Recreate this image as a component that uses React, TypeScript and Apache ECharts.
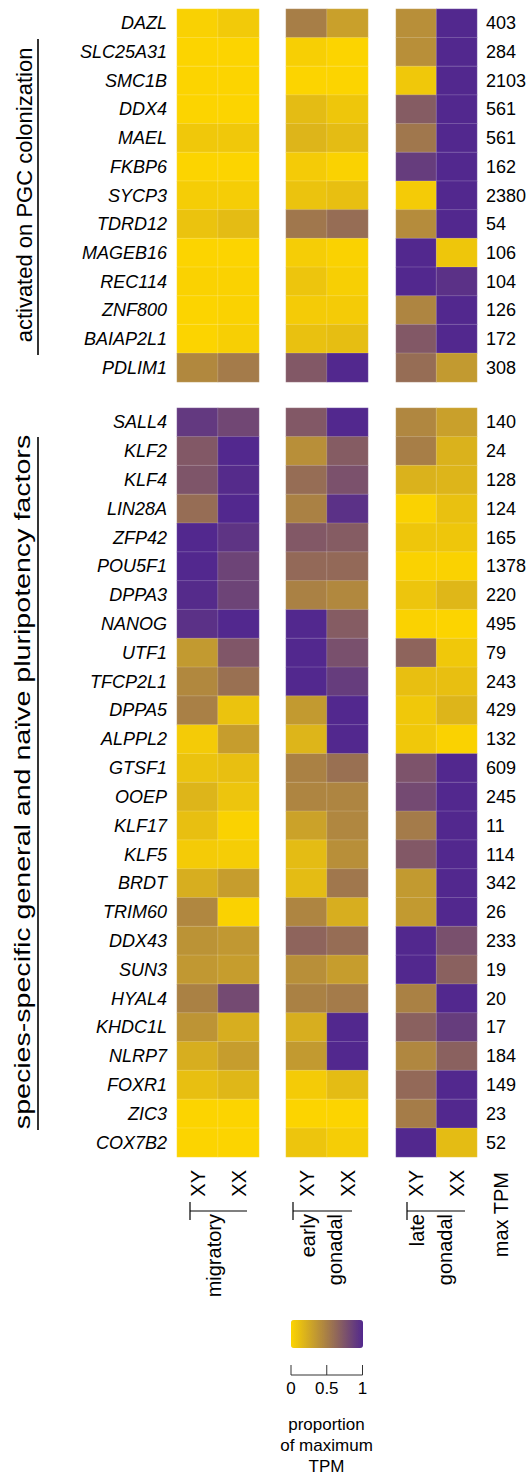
import React, { useEffect, useRef } from "react";
import * as echarts from "echarts";

// ---------- data ----------
const columns = ["XY", "XX"];

const topGenes = ["DAZL", "SLC25A31", "SMC1B", "DDX4", "MAEL", "FKBP6", "SYCP3", "TDRD12", "MAGEB16", "REC114", "ZNF800", "BAIAP2L1", "PDLIM1"];
const topMaxTPM = [403, 284, 2103, 561, 561, 162, 2380, 54, 106, 104, 126, 172, 308];
const topMigXY = [0.02, 0, 0, 0, 0.07, 0, 0.04, 0.1, 0, 0.01, 0, 0, 0.44];
const topMigXX = [0.06, 0, 0, 0, 0.07, 0, 0.04, 0.14, 0, 0.01, 0.01, 0.03, 0.52];
const topEarlyXY = [0.5, 0.03, 0, 0.14, 0.18, 0.05, 0.1, 0.54, 0.04, 0.09, 0.05, 0.11, 0.72];
const topEarlyXX = [0.3, 0, 0, 0.08, 0.14, 0.01, 0.12, 0.6, 0.01, 0.03, 0.05, 0.13, 1];
const topLateXY = [0.4, 0.4, 0.07, 0.7, 0.54, 0.88, 0.05, 0.42, 1, 1, 0.46, 0.72, 0.6];
const topLateXX = [1, 1, 1, 1, 1, 1, 1, 1, 0.08, 0.95, 1, 1, 0.34];

const botGenes = ["SALL4", "KLF2", "KLF4", "LIN28A", "ZFP42", "POU5F1", "DPPA3", "NANOG", "UTF1", "TFCP2L1", "DPPA5", "ALPPL2", "GTSF1", "OOEP", "KLF17", "KLF5", "BRDT", "TRIM60", "DDX43", "SUN3", "HYAL4", "KHDC1L", "NLRP7", "FOXR1", "ZIC3", "COX7B2"];
const botMaxTPM = [140, 24, 128, 124, 165, 1378, 220, 495, 79, 243, 429, 132, 609, 245, 11, 114, 342, 26, 233, 19, 20, 17, 184, 149, 23, 52];
const botMigXY = [0.9, 0.72, 0.74, 0.6, 1, 1, 0.98, 0.95, 0.34, 0.44, 0.49, 0.05, 0.1, 0.18, 0.12, 0.05, 0.22, 0.45, 0.38, 0.35, 0.48, 0.37, 0.22, 0.12, 0, 0];
const botMigXX = [0.82, 1, 0.98, 1, 0.93, 0.84, 0.84, 1, 0.73, 0.58, 0.1, 0.32, 0.12, 0.09, 0.01, 0.04, 0.32, 0.01, 0.35, 0.32, 0.8, 0.22, 0.32, 0.17, 0, 0];
const botEarlyXY = [0.72, 0.4, 0.6, 0.48, 0.72, 0.62, 0.48, 1, 1, 1, 0.34, 0.18, 0.48, 0.46, 0.29, 0.14, 0.14, 0.46, 0.65, 0.4, 0.48, 0.22, 0.34, 0.05, 0, 0.09];
const botEarlyXX = [1, 0.7, 0.76, 0.95, 0.7, 0.62, 0.44, 0.7, 0.77, 0.88, 1, 1, 0.58, 0.46, 0.45, 0.4, 0.54, 0.22, 0.6, 0.32, 0.52, 1, 1, 0.14, 0, 0.04];
const botLateXY = [0.45, 0.5, 0.2, 0.01, 0.08, 0.01, 0.09, 0.01, 0.65, 0.12, 0.07, 0.07, 0.75, 0.8, 0.52, 0.72, 0.34, 0.34, 1, 1, 0.48, 0.67, 0.45, 0.62, 0.51, 1];
const botLateXX = [0.3, 0.2, 0.18, 0.11, 0.08, 0.01, 0.17, 0, 0.07, 0.12, 0.18, 0.01, 1, 1, 1, 1, 1, 1, 0.77, 0.67, 1, 0.88, 0.67, 1, 1, 0.14];

const colorTicks = ["0", "0.5", "1"];
const stageLabels = [["migratory"], ["early", "gonadal"], ["late", "gonadal"]];

// ---------- helpers ----------
const FONT = "Liberation Sans, Arial, Helvetica, sans-serif";

function cells(xy: number[], xx: number[]) {
  const out: number[][] = [];
  xy.forEach((v, i) => out.push([0, i, v]));
  xx.forEach((v, i) => out.push([1, i, v]));
  return out;
}

function buildOption() {
  const colLeft = [177, 286, 396];
  const colWidth = [82, 82, 81];
  const blocks = [
    { top: 9, height: 373, genes: topGenes, tpm: topMaxTPM, data: [[topMigXY, topMigXX], [topEarlyXY, topEarlyXX], [topLateXY, topLateXX]] },
    { top: 408, height: 749, genes: botGenes, tpm: botMaxTPM, data: [[botMigXY, botMigXX], [botEarlyXY, botEarlyXX], [botLateXY, botLateXX]] },
  ];

  const grid: any[] = [];
  const xAxis: any[] = [];
  const yAxis: any[] = [];
  const series: any[] = [];

  blocks.forEach((b, bi) => {
    [0, 1, 2].forEach((ci) => {
      const idx = grid.length;
      grid.push({ left: colLeft[ci], top: b.top, width: colWidth[ci], height: b.height });
      xAxis.push({
        type: "category",
        gridIndex: idx,
        data: columns,
        axisLine: { show: false },
        axisTick: { show: false },
        splitLine: { show: false },
        axisLabel: {
          show: bi === 1,
          rotate: 90,
          interval: 0,
          margin: 13,
          fontSize: 20,
          color: "#000",
          fontFamily: FONT,
        },
      });
      yAxis.push({
        type: "category",
        gridIndex: idx,
        data: b.genes,
        inverse: true,
        position: ci === 2 ? "right" : "left",
        axisLine: { show: false },
        axisTick: { show: false },
        splitLine: { show: false },
        axisLabel: {
          show: ci !== 1,
          interval: 0,
          margin: ci === 2 ? 9 : 10,
          fontSize: 18,
          fontStyle: ci === 0 ? "italic" : "normal",
          color: "#000",
          fontFamily: FONT,
          formatter: ci === 2 ? (_v: string, i: number) => String(b.tpm[i]) : undefined,
        },
      });
      series.push({
        type: "heatmap",
        xAxisIndex: idx,
        yAxisIndex: idx,
        data: cells(b.data[ci][0], b.data[ci][1]),
        itemStyle: { borderColor: "rgba(255,255,255,0.3)", borderWidth: 0.6 },
        emphasis: { disabled: true },
        label: { show: false },
      });
    });
  });

  const black = "#000";
  const graphic: any[] = [];
  // left block brackets + labels
  graphic.push({ type: "line", shape: { x1: 38, y1: 39, x2: 38, y2: 355 }, style: { stroke: black, lineWidth: 1.6 } });
  graphic.push({ type: "line", shape: { x1: 38, y1: 437, x2: 38, y2: 1130 }, style: { stroke: black, lineWidth: 1.6 } });
  graphic.push({
    type: "text", x: 24, y: 195, rotation: Math.PI / 2,
    style: { text: "activated on PGC colonization", x: 0, y: 0, align: "center", verticalAlign: "middle", fontSize: 22, fontFamily: FONT, fill: black },
  });
  graphic.push({
    type: "text", x: 22, y: 782, rotation: Math.PI / 2, scaleX: 1.3,
    style: { text: "species-specific general and naïve pluripotency factors", x: 0, y: 0, align: "center", verticalAlign: "middle", fontSize: 22, fontFamily: FONT, fill: black },
  });

  // stage labels under the columns
  const bracketLeft = [190, 293, 407];
  const bracketRight = [247, 352, 465];
  const wordX = [[214], [308, 334.5], [417, 444.5]];
  stageLabels.forEach((words, gi) => {
    graphic.push({ type: "line", shape: { x1: bracketLeft[gi], y1: 1211, x2: bracketRight[gi], y2: 1211 }, style: { stroke: black, lineWidth: 1.2 } });
    graphic.push({ type: "line", shape: { x1: bracketLeft[gi], y1: 1202, x2: bracketLeft[gi], y2: 1220 }, style: { stroke: black, lineWidth: 1.2 } });
    words.forEach((w, wi) => {
      graphic.push({
        type: "text", x: wordX[gi][wi], y: 1214, rotation: Math.PI / 2,
        style: { text: w, x: 0, y: 0, align: "right", verticalAlign: "middle", fontSize: 20, fontFamily: FONT, fill: black },
      });
    });
  });
  graphic.push({
    type: "text", x: 501, y: 1172, rotation: Math.PI / 2,
    style: { text: "max TPM", x: 0, y: 0, align: "right", verticalAlign: "middle", fontSize: 20, fontFamily: FONT, fill: black },
  });

  // colour bar axis
  const cbLeft = 291;
  const cbRight = 362.5;
  graphic.push({ type: "line", shape: { x1: cbLeft, y1: 1375, x2: cbRight, y2: 1375 }, style: { stroke: "#333", lineWidth: 1 } });
  colorTicks.forEach((t, i) => {
    const x = cbLeft + ((cbRight - cbLeft) * i) / (colorTicks.length - 1);
    graphic.push({ type: "line", shape: { x1: x, y1: 1365, x2: x, y2: 1375 }, style: { stroke: "#333", lineWidth: 1 } });
    graphic.push({ type: "text", x, y: 1388, style: { text: t, align: "center", verticalAlign: "middle", fontSize: 17, fontFamily: FONT, fill: black } });
  });
  graphic.push({
    type: "text", x: 326.5, y: 1414,
    style: { text: "proportion\nof maximum\nTPM", align: "center", verticalAlign: "top", fontSize: 17, lineHeight: 21, fontFamily: FONT, fill: black },
  });

  return {
    animation: false,
    backgroundColor: "#fff",
    grid,
    xAxis,
    yAxis,
    series,
    visualMap: {
      type: "continuous",
      min: 0,
      max: 1,
      orient: "horizontal",
      left: 291,
      top: 1320,
      itemWidth: 28,
      itemHeight: 72,
      padding: 0,
      calculable: false,
      hoverLink: false,
      text: null,
      showLabel: false,
      seriesIndex: series.map((_, i) => i),
      inRange: { color: ["#FCD400", "#52288E"] },
    },
    graphic,
  };
}

export default function App() {
  const ref = useRef<HTMLDivElement>(null);
  useEffect(() => {
    document.body.style.margin = "0";
    if (!ref.current) return;
    const chart = echarts.init(ref.current, null, { renderer: "svg" });
    chart.setOption(buildOption() as any);
    return () => chart.dispose();
  }, []);
  return <div ref={ref} style={{ width: 531, height: 1479 }} />;
}
